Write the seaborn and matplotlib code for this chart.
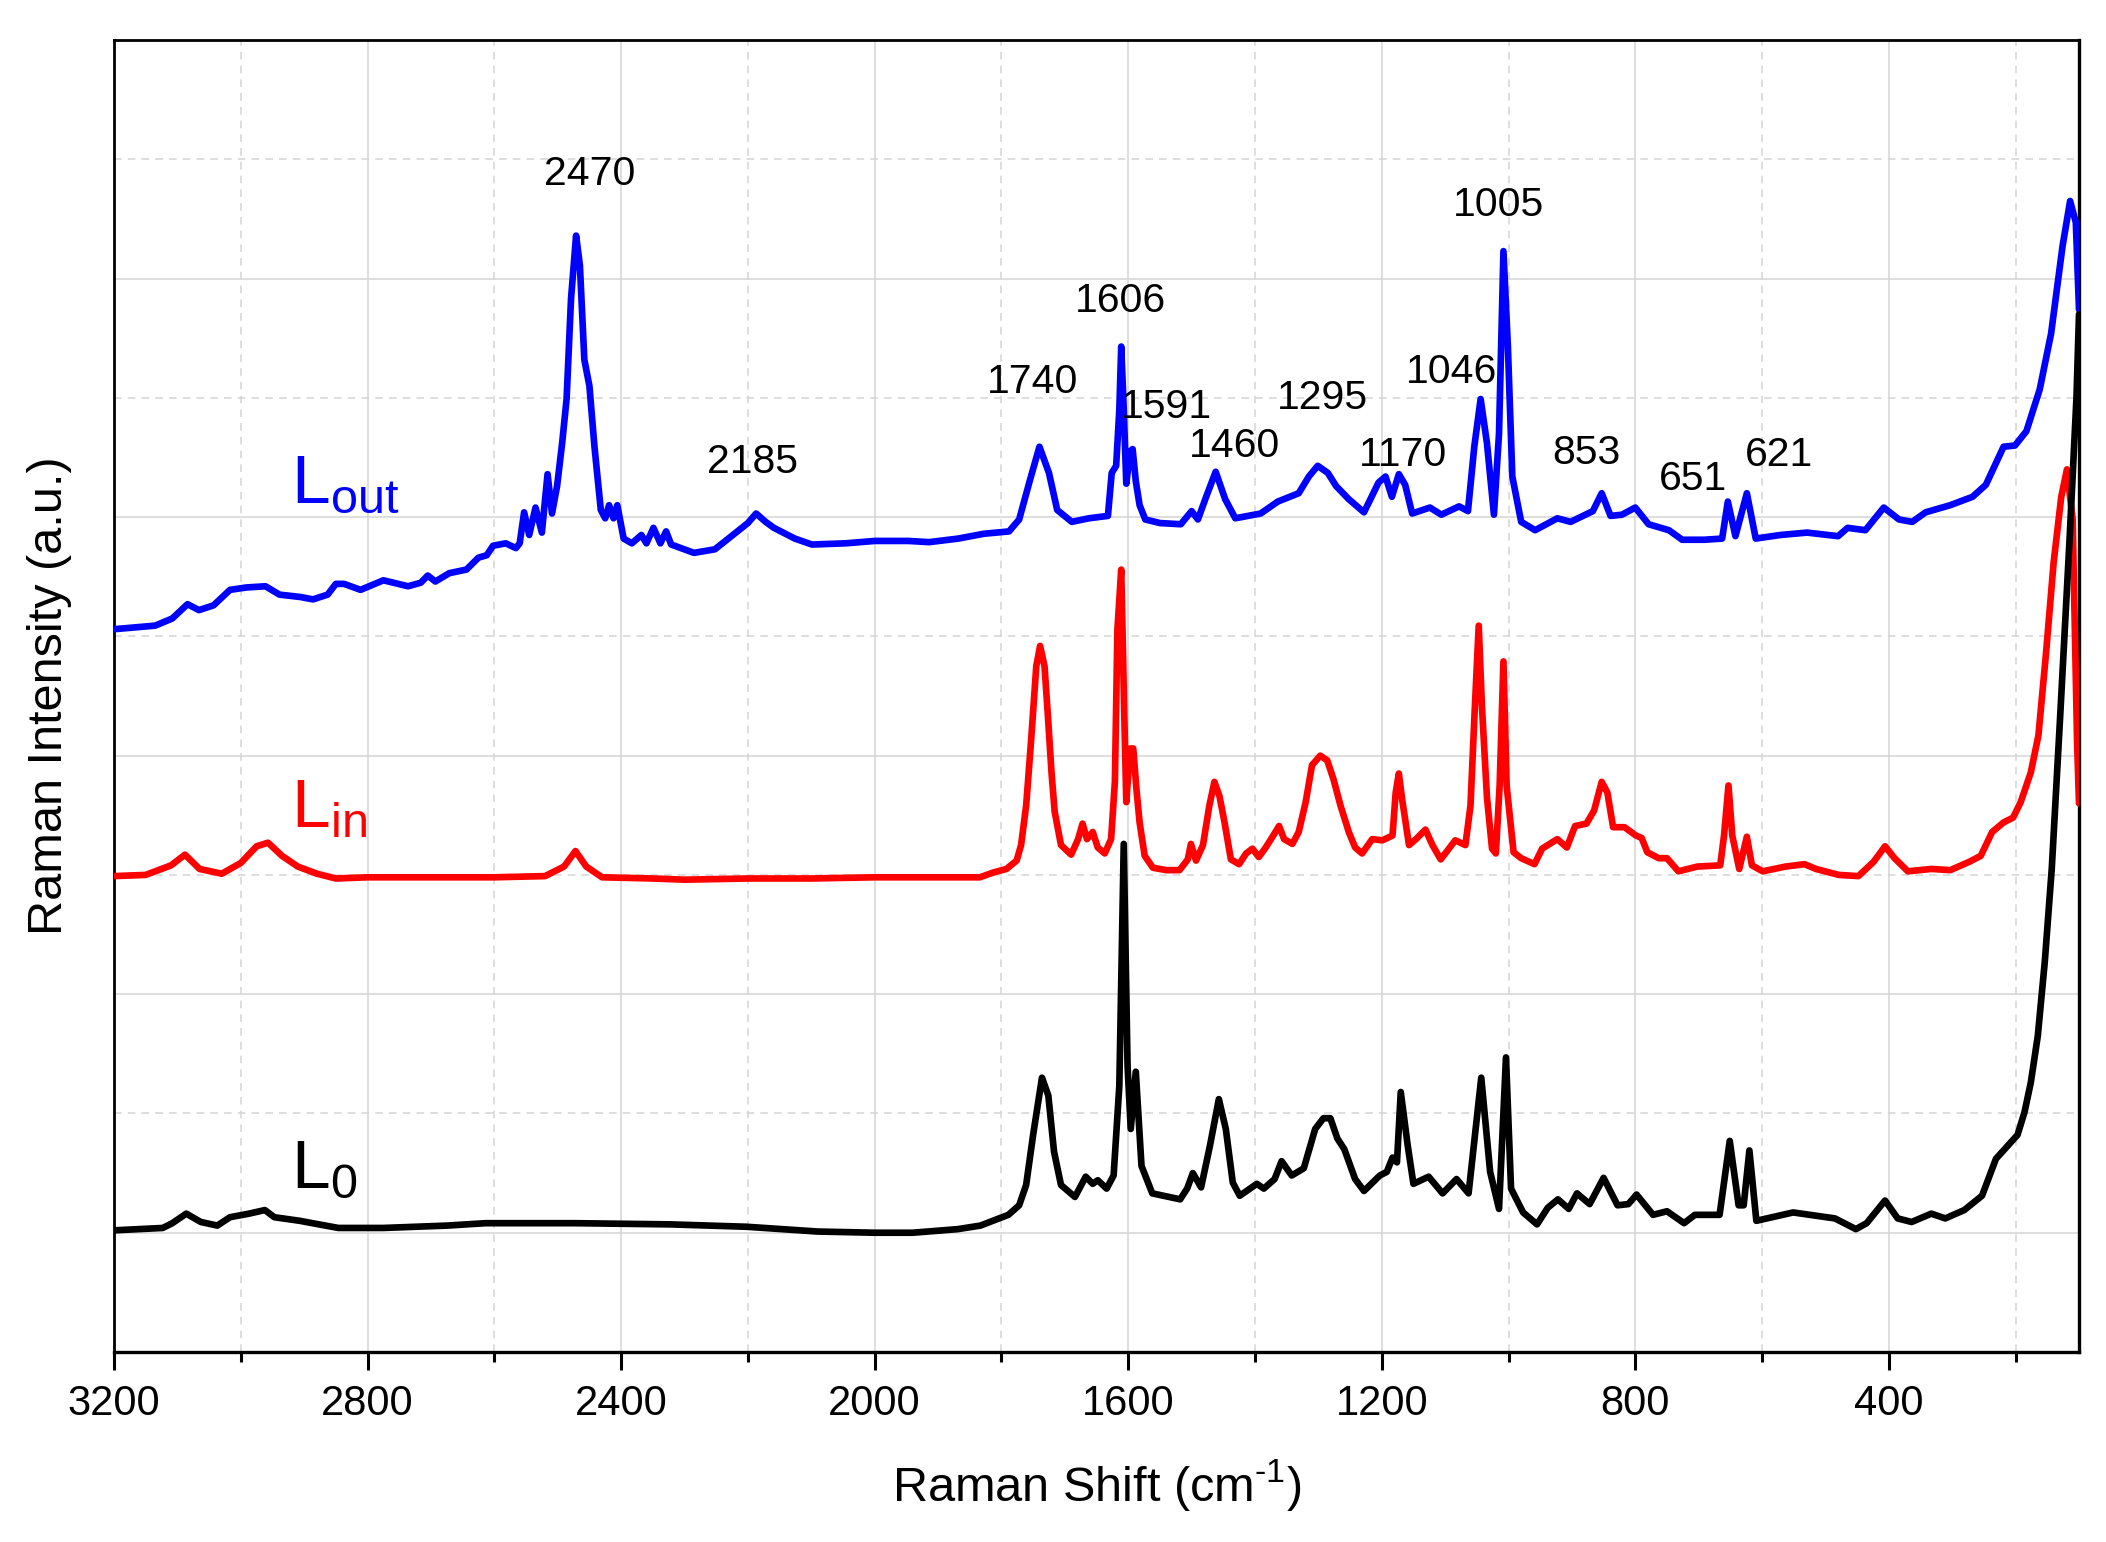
import numpy as np
import pandas as pd
import matplotlib
matplotlib.use("Agg")
import matplotlib.pyplot as plt
from matplotlib.ticker import MultipleLocator, NullFormatter
import seaborn as sns

# ---------------- data (offset units) ----------------
lout_x = [3200, 3135, 3108, 3084, 3066, 3043, 3017, 2991, 2961, 2939, 2906, 2886, 2863, 2850,
          2837, 2811, 2775, 2736, 2716, 2705, 2693, 2671, 2644, 2625, 2612, 2602, 2582, 2566,
          2560, 2553, 2545, 2535, 2525, 2516, 2509, 2501, 2493, 2486, 2479, 2471, 2465, 2458,
          2450, 2442, 2432, 2425, 2419, 2412, 2406, 2396, 2383, 2368, 2360, 2349, 2338, 2329,
          2321, 2285, 2252, 2219, 2200, 2187, 2172, 2159, 2126, 2099, 2046, 2000, 1947, 1914,
          1868, 1828, 1788, 1772, 1755, 1740, 1725, 1712, 1689, 1662, 1632, 1626, 1619, 1614,
          1611, 1607, 1603, 1597, 1593, 1588, 1582, 1573, 1550, 1517, 1500, 1490, 1477, 1462,
          1447, 1431, 1391, 1364, 1331, 1315, 1301, 1285, 1272, 1252, 1228, 1205, 1194, 1184,
          1173, 1163, 1152, 1124, 1106, 1078, 1064, 1054, 1044, 1034, 1023, 1015, 1008, 1001,
          994, 980, 958, 923, 902, 867, 853, 839, 821, 800, 779, 747, 726, 691, 663, 654, 642,
          624, 610, 571, 529, 480, 465, 437, 408, 384, 363, 342, 303, 268, 247, 233, 219, 201,
          183, 162, 144, 126, 114, 105, 100]
lout_y = [5.06, 5.09, 5.15, 5.27, 5.22, 5.26, 5.39, 5.41, 5.42, 5.35, 5.33, 5.31, 5.35, 5.44,
          5.44, 5.39, 5.47, 5.42, 5.45, 5.51, 5.46, 5.53, 5.56, 5.66, 5.68, 5.76, 5.78, 5.74,
          5.78, 6.04, 5.85, 6.08, 5.87, 6.36, 6.03, 6.26, 6.62, 6.99, 7.83, 8.36, 8.11, 7.32,
          7.10, 6.59, 6.06, 5.99, 6.10, 5.99, 6.10, 5.82, 5.78, 5.85, 5.78, 5.91, 5.78, 5.88,
          5.77, 5.70, 5.73, 5.87, 5.95, 6.03, 5.96, 5.91, 5.82, 5.77, 5.78, 5.80, 5.80, 5.79,
          5.82, 5.86, 5.88, 5.98, 6.31, 6.59, 6.37, 6.06, 5.96, 5.99, 6.01, 6.37, 6.43, 6.90,
          7.43, 6.90, 6.28, 6.55, 6.57, 6.30, 6.10, 5.98, 5.95, 5.94, 6.05, 5.98, 6.17, 6.38,
          6.15, 5.99, 6.03, 6.13, 6.20, 6.34, 6.43, 6.37, 6.26, 6.15, 6.04, 6.29, 6.34, 6.17,
          6.36, 6.27, 6.03, 6.08, 6.02, 6.09, 6.05, 6.59, 6.99, 6.62, 6.02, 6.70, 8.23, 7.43,
          6.34, 5.96, 5.89, 5.99, 5.96, 6.05, 6.20, 6.01, 6.02, 6.08, 5.94, 5.89, 5.81, 5.81,
          5.82, 6.13, 5.84, 6.20, 5.82, 5.85, 5.87, 5.84, 5.91, 5.89, 6.08, 5.98, 5.96, 6.04,
          6.10, 6.17, 6.27, 6.43, 6.59, 6.60, 6.72, 7.07, 7.54, 8.27, 8.65, 8.47, 7.74]

lin_x = [3200, 3150, 3110, 3088, 3065, 3030, 3000, 2975, 2957, 2935, 2910, 2880, 2850, 2800,
         2700, 2600, 2520, 2490, 2472, 2455, 2430, 2350, 2300, 2200, 2100, 2000, 1900, 1834,
         1813, 1792, 1776, 1769, 1761, 1753, 1745, 1739, 1732, 1727, 1721, 1716, 1706, 1690,
         1679, 1672, 1665, 1656, 1648, 1637, 1627, 1621, 1617, 1611, 1606, 1603, 1597, 1592,
         1587, 1582, 1574, 1561, 1540, 1519, 1506, 1501, 1493, 1482, 1472, 1464, 1456, 1448,
         1438, 1425, 1414, 1404, 1394, 1383, 1370, 1362, 1354, 1341, 1331, 1320, 1310, 1297,
         1286, 1276, 1265, 1252, 1242, 1231, 1215, 1199, 1183, 1178, 1173, 1168, 1157, 1146,
         1131, 1120, 1107, 1094, 1084, 1068, 1060, 1053, 1047, 1042, 1034, 1026, 1020, 1014,
         1008, 1003, 992, 980, 959, 947, 923, 908, 895, 877, 865, 853, 844, 835, 817, 799, 790,
         781, 763, 750, 732, 702, 666, 660, 653, 647, 636, 624, 616, 599, 563, 533, 515, 479,
         448, 424, 406, 391, 370, 333, 303, 273, 255, 237, 219, 204, 192, 176, 164, 152, 140,
         128, 119, 110, 103, 100]
lin_y = [2.99, 3.00, 3.08, 3.17, 3.05, 3.01, 3.10, 3.24, 3.27, 3.16, 3.07, 3.01, 2.97, 2.98,
         2.98, 2.98, 2.99, 3.07, 3.20, 3.07, 2.98, 2.97, 2.96, 2.97, 2.97, 2.98, 2.98, 2.98,
         3.02, 3.05, 3.12, 3.25, 3.58, 4.14, 4.75, 4.92, 4.75, 4.36, 3.86, 3.53, 3.25, 3.17,
         3.30, 3.43, 3.30, 3.36, 3.23, 3.18, 3.30, 3.78, 5.06, 5.56, 4.30, 3.61, 4.06, 4.06,
         3.72, 3.44, 3.16, 3.06, 3.04, 3.04, 3.13, 3.26, 3.12, 3.25, 3.58, 3.78, 3.66, 3.44,
         3.13, 3.09, 3.18, 3.22, 3.15, 3.23, 3.34, 3.41, 3.30, 3.26, 3.36, 3.61, 3.92, 4.00,
         3.96, 3.80, 3.58, 3.36, 3.23, 3.18, 3.30, 3.29, 3.33, 3.69, 3.85, 3.64, 3.25, 3.30,
         3.38, 3.25, 3.13, 3.22, 3.29, 3.25, 3.58, 4.42, 5.09, 4.42, 3.65, 3.22, 3.18, 3.75,
         4.79, 3.75, 3.19, 3.14, 3.09, 3.22, 3.30, 3.23, 3.41, 3.43, 3.54, 3.78, 3.69, 3.40,
         3.40, 3.33, 3.31, 3.19, 3.14, 3.14, 3.03, 3.07, 3.08, 3.33, 3.75, 3.33, 3.05, 3.32,
         3.08, 3.03, 3.07, 3.09, 3.05, 3.00, 2.99, 3.11, 3.24, 3.14, 3.03, 3.05, 3.04, 3.11,
         3.16, 3.36, 3.44, 3.48, 3.61, 3.86, 4.17, 4.86, 5.62, 6.17, 6.40, 5.98, 4.11, 3.60]

l0_x = [3200, 3123, 3108, 3086, 3063, 3037, 3017, 2987, 2962, 2947, 2907, 2887, 2846, 2775,
        2674, 2614, 2473, 2322, 2202, 2090, 2000, 1940, 1869, 1833, 1789, 1772, 1761, 1750,
        1736, 1726, 1717, 1706, 1684, 1667, 1656, 1648, 1634, 1623, 1614, 1607, 1601, 1596,
        1588, 1579, 1562, 1518, 1507, 1498, 1485, 1471, 1457, 1446, 1435, 1424, 1397, 1386,
        1369, 1358, 1342, 1323, 1305, 1292, 1281, 1270, 1259, 1242, 1228, 1203, 1192, 1183,
        1176, 1170, 1159, 1150, 1126, 1104, 1082, 1063, 1043, 1029, 1015, 1004, 996, 977, 955,
        938, 922, 905, 892, 872, 850, 828, 811, 798, 772, 750, 723, 706, 667, 651, 637, 629,
        620, 609, 551, 485, 452, 435, 406, 386, 364, 333, 311, 281, 253, 231, 214, 197, 186,
        176, 165, 154, 143, 130, 115, 104, 100]
l0_y = [0.02, 0.04, 0.08, 0.16, 0.09, 0.06, 0.13, 0.16, 0.19, 0.13, 0.10, 0.08, 0.04, 0.04,
        0.06, 0.08, 0.08, 0.07, 0.05, 0.01, 0.00, 0.00, 0.03, 0.06, 0.15, 0.23, 0.40, 0.82,
        1.30, 1.15, 0.68, 0.40, 0.30, 0.47, 0.41, 0.44, 0.37, 0.48, 1.23, 3.26, 1.40, 0.87,
        1.35, 0.56, 0.33, 0.28, 0.37, 0.50, 0.38, 0.73, 1.12, 0.87, 0.42, 0.31, 0.41, 0.37,
        0.45, 0.60, 0.48, 0.54, 0.87, 0.96, 0.96, 0.79, 0.70, 0.45, 0.35, 0.48, 0.51, 0.63,
        0.59, 1.18, 0.73, 0.41, 0.47, 0.33, 0.45, 0.33, 1.30, 0.51, 0.20, 1.47, 0.37, 0.17,
        0.07, 0.21, 0.28, 0.20, 0.33, 0.24, 0.46, 0.23, 0.24, 0.32, 0.15, 0.18, 0.08, 0.15,
        0.15, 0.77, 0.23, 0.23, 0.69, 0.10, 0.17, 0.12, 0.03, 0.08, 0.27, 0.12, 0.09, 0.16,
        0.12, 0.19, 0.31, 0.62, 0.72, 0.82, 1.01, 1.26, 1.65, 2.27, 3.05, 4.30, 5.80, 7.00,
        7.70]

series_names = ["L_out", "L_in", "L_0"]
series_labels = [r"$\mathregular{L_{out}}$", r"$\mathregular{L_{in}}$", r"$\mathregular{L_{0}}$"]
series_colors = ["#0000ff", "#ff0000", "#000000"]

peak_labels = ["2470", "2185", "1740", "1606", "1591", "1460", "1295", "1170",
               "1046", "1005", "853", "651", "621"]
peak_label_x = [2449, 2193, 1751, 1613, 1539, 1433, 1293, 1167, 1090, 1016, 877, 709, 574]
peak_label_y = [8.88, 6.46, 7.13, 7.81, 6.92, 6.60, 7.00, 6.52, 7.22, 8.62, 6.54, 6.32, 6.52]

xticks = [3200, 2800, 2400, 2000, 1600, 1200, 800, 400]

# ---------------- style ----------------
sns.set_style("white")
plt.rcParams["font.family"] = ["Liberation Sans", "DejaVu Sans"]
plt.rcParams["mathtext.fontset"] = "custom"
plt.rcParams["mathtext.rm"] = "Liberation Sans"
for key in ["text.color", "axes.labelcolor", "xtick.color", "ytick.color", "axes.edgecolor"]:
    plt.rcParams[key] = "black"

fig = plt.figure(figsize=(21.06, 15.42), dpi=100)
ax = fig.add_axes([114 / 2106, 1 - 1352 / 1542, (2079 - 114) / 2106, (1352 - 40) / 1542])

frames = [pd.DataFrame({"shift": lout_x, "intensity": lout_y}),
          pd.DataFrame({"shift": lin_x, "intensity": lin_y}),
          pd.DataFrame({"shift": l0_x, "intensity": l0_y})]

for df, col in zip(frames, series_colors):
    sns.lineplot(data=df, x="shift", y="intensity", ax=ax, color=col, lw=4.8,
                 estimator=None, sort=False, zorder=3)

# series labels
ax.text(2920, 6.12, series_labels[0], color=series_colors[0], fontsize=50, ha="left", va="baseline")
ax.text(2920, 3.40, series_labels[1], color=series_colors[1], fontsize=50, ha="left", va="baseline")
ax.text(2920, 0.37, series_labels[2], color=series_colors[2], fontsize=50, ha="left", va="baseline")

for lab, px, py in zip(peak_labels, peak_label_x, peak_label_y):
    ax.text(px, py, lab, fontsize=29.5, ha="center", va="center", color="black")

ax.set_xlim(3200, 100)
ax.set_ylim(-1, 10)
ax.set_xticks(xticks)
ax.xaxis.set_minor_locator(MultipleLocator(200))
ax.yaxis.set_major_locator(MultipleLocator(2))
ax.yaxis.set_minor_locator(MultipleLocator(1))
ax.yaxis.set_major_formatter(NullFormatter())

ax.set_axisbelow(True)
ax.grid(which="major", color="#d4d4d4", lw=1.1, ls="-")
ax.grid(which="minor", color="#d4d4d4", lw=1.1, ls=(0, (5, 4)))

ax.tick_params(axis="x", which="major", direction="out", length=13, width=2.2,
               labelsize=30, pad=10, top=False, bottom=True, colors="black")
ax.tick_params(axis="x", which="minor", direction="out", length=7, width=2.2, top=False, bottom=True)
ax.tick_params(axis="y", which="both", length=0, left=False, right=False, labelleft=False)

for name, s in ax.spines.items():
    s.set_visible(True)
    s.set_color("black")
    s.set_linewidth(2.4 if name in ("bottom", "right") else 2)

ax.set_xlabel("Raman Shift (cm$^{\\mathregular{\u20101}}$)", fontsize=35, labelpad=24)
ax.set_ylabel("Raman Intensity (a.u.)", fontsize=35, labelpad=30)

fig.savefig("out.png", dpi=100)
